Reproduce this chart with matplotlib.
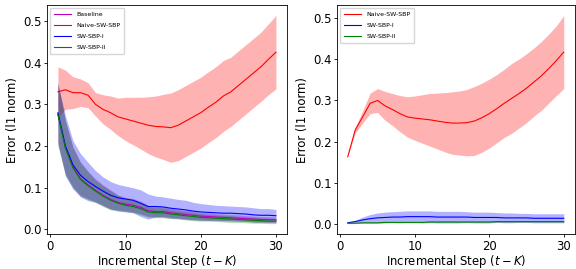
import numpy as np
import matplotlib
matplotlib.use("Agg")
import matplotlib.pyplot as plt

#-- DATI
steps = np.arange(1, 31)

# pannello sinistro
base_mean_L  = [0.277, 0.197, 0.150, 0.122, 0.107, 0.094, 0.082, 0.072, 0.065, 0.061, 0.058, 0.053, 0.045, 0.043, 0.043,
                0.040, 0.038, 0.036, 0.034, 0.032, 0.031, 0.030, 0.029, 0.028, 0.027, 0.026, 0.025, 0.024, 0.024, 0.023]
base_std_L   = [0.073, 0.064, 0.048, 0.040, 0.033, 0.027, 0.025, 0.023, 0.018, 0.016, 0.016, 0.015, 0.013, 0.012, 0.012,
                0.011, 0.010, 0.010, 0.010, 0.009, 0.009, 0.008, 0.008, 0.008, 0.008, 0.007, 0.007, 0.007, 0.007, 0.007]
naive_mean_L = [0.330, 0.335, 0.328, 0.328, 0.322, 0.300, 0.288, 0.280, 0.270, 0.265, 0.260, 0.255, 0.250, 0.247, 0.246,
                0.244, 0.250, 0.260, 0.270, 0.280, 0.293, 0.305, 0.320, 0.330, 0.345, 0.360, 0.375, 0.390, 0.408, 0.425]
naive_std_L  = [0.060, 0.047, 0.038, 0.033, 0.030, 0.028, 0.035, 0.040, 0.045, 0.052, 0.057, 0.062, 0.068, 0.073, 0.078,
                0.083, 0.085, 0.085, 0.085, 0.085, 0.085, 0.085, 0.085, 0.083, 0.083, 0.083, 0.083, 0.083, 0.085, 0.088]
sw1_mean_L   = [0.280, 0.200, 0.155, 0.130, 0.115, 0.103, 0.092, 0.082, 0.076, 0.073, 0.070, 0.063, 0.055, 0.055, 0.054,
                0.051, 0.049, 0.047, 0.044, 0.042, 0.041, 0.040, 0.039, 0.039, 0.038, 0.037, 0.035, 0.034, 0.034, 0.033]
sw1_std_L    = [0.070, 0.072, 0.058, 0.052, 0.046, 0.038, 0.034, 0.033, 0.032, 0.031, 0.030, 0.032, 0.030, 0.025, 0.024,
                0.024, 0.023, 0.023, 0.021, 0.020, 0.019, 0.018, 0.018, 0.017, 0.017, 0.017, 0.017, 0.016, 0.016, 0.015]
sw2_mean_L   = [0.275, 0.195, 0.148, 0.120, 0.105, 0.092, 0.080, 0.070, 0.063, 0.058, 0.055, 0.050, 0.042, 0.040, 0.040,
                0.037, 0.035, 0.033, 0.031, 0.029, 0.028, 0.027, 0.026, 0.025, 0.024, 0.023, 0.022, 0.021, 0.020, 0.020]
sw2_std_L    = [0.075, 0.065, 0.048, 0.040, 0.033, 0.027, 0.025, 0.023, 0.018, 0.015, 0.015, 0.015, 0.012, 0.012, 0.012,
                0.011, 0.010, 0.010, 0.010, 0.009, 0.008, 0.008, 0.008, 0.008, 0.007, 0.007, 0.007, 0.006, 0.006, 0.006]

# pannello destro
naive_mean_R = [0.163, 0.228, 0.260, 0.293, 0.300, 0.287, 0.278, 0.268, 0.260, 0.257, 0.255, 0.253, 0.250, 0.247, 0.245,
                0.245, 0.246, 0.250, 0.258, 0.268, 0.280, 0.293, 0.305, 0.317, 0.330, 0.345, 0.360, 0.378, 0.397, 0.418]
naive_std_R  = [0.000, 0.007, 0.015, 0.025, 0.029, 0.035, 0.039, 0.044, 0.049, 0.054, 0.059, 0.064, 0.068, 0.072, 0.076,
                0.078, 0.081, 0.084, 0.084, 0.084, 0.083, 0.083, 0.085, 0.084, 0.084, 0.083, 0.084, 0.084, 0.085, 0.089]
sw1_mean_R   = [0.002, 0.005, 0.009, 0.012, 0.014, 0.015, 0.016, 0.016, 0.017, 0.017, 0.017, 0.017, 0.016, 0.016, 0.016,
                0.016, 0.016, 0.015, 0.015, 0.015, 0.015, 0.014, 0.014, 0.014, 0.014, 0.013, 0.013, 0.013, 0.013, 0.013]
sw1_std_R    = [0.001, 0.003, 0.007, 0.010, 0.012, 0.013, 0.013, 0.014, 0.014, 0.014, 0.014, 0.014, 0.014, 0.014, 0.014,
                0.014, 0.013, 0.013, 0.013, 0.013, 0.012, 0.012, 0.012, 0.011, 0.011, 0.011, 0.011, 0.011, 0.011, 0.011]
sw2_mean_R   = [0.001, 0.001, 0.002, 0.002, 0.002, 0.003, 0.003, 0.003, 0.003, 0.003, 0.003, 0.004, 0.004, 0.004, 0.004,
                0.004, 0.004, 0.004, 0.004, 0.004, 0.005, 0.005, 0.005, 0.005, 0.005, 0.005, 0.005, 0.005, 0.005, 0.005]
sw2_std_R    = [0.001, 0.001, 0.001, 0.001, 0.001, 0.001, 0.001, 0.001, 0.001, 0.001, 0.002, 0.002, 0.002, 0.002, 0.002,
                0.002, 0.002, 0.002, 0.002, 0.002, 0.002, 0.002, 0.002, 0.002, 0.002, 0.002, 0.002, 0.002, 0.002, 0.002]


def curva(ax, mean, std, col, lab):
    mean = np.array(mean); std = np.array(std)
    ax.plot(steps, mean, color=col, lw=0.8, label=lab)
    ax.fill_between(steps, mean - std, mean + std, color=col, alpha=0.3, lw=0)


fig = plt.figure(figsize=(5.76, 2.69), dpi=100)
axL = fig.add_axes([0.0816, 0.13, 0.4164, 0.851])
axR = fig.add_axes([0.585, 0.13, 0.4125, 0.851])

curva(axL, base_mean_L, base_std_L, 'm', 'Baseline')
curva(axL, naive_mean_L, naive_std_L, 'r', 'Naive-SW-SBP')
curva(axL, sw1_mean_L, sw1_std_L, 'b', 'SW-SBP-I')
curva(axL, sw2_mean_L, sw2_std_L, 'g', 'SW-SBP-II')

curva(axR, naive_mean_R, naive_std_R, 'r', 'Naive-SW-SBP')
curva(axR, sw1_mean_R, sw1_std_R, 'b', 'SW-SBP-I')
curva(axR, sw2_mean_R, sw2_std_R, 'g', 'SW-SBP-II')

for ax in (axL, axR):
    ax.set_xticks([0, 10, 20, 30])
    ax.set_yticks([0.0, 0.1, 0.2, 0.3, 0.4, 0.5])
    ax.tick_params(labelsize=8.4, length=2.5, width=0.6, pad=1.5)
    ax.set_xlabel('Incremental Step $(t-K)$', fontsize=8.4, labelpad=0)
    ax.set_ylabel('Error (l1 norm)', fontsize=8.4, labelpad=3)
    for s in ax.spines.values():
        s.set_linewidth(0.6)
    ax.legend(loc='upper left', fontsize=4.5, handlelength=2.8, borderpad=0.6, labelspacing=0.9)

fig.savefig('out.png', dpi=100)
